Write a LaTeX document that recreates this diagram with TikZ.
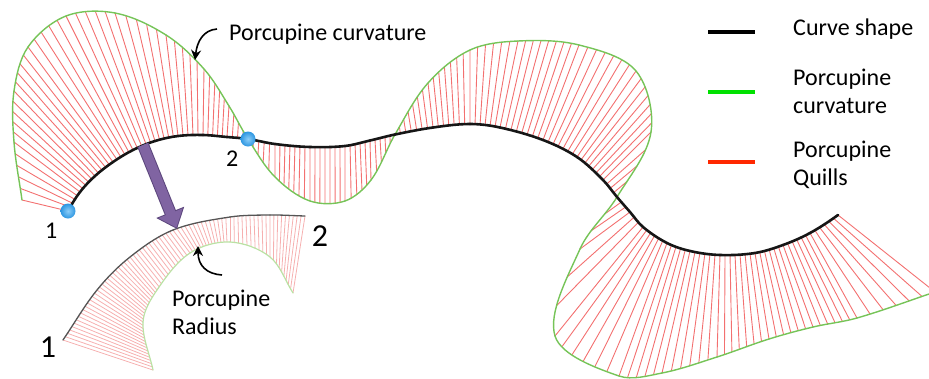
\documentclass[tikz,border=0pt]{standalone}
\usepackage{fontspec}
\setmainfont{Carlito}
\definecolor{pcblack}{RGB}{22,22,22}
\definecolor{pcgreen}{RGB}{118,196,88}
\definecolor{pcred}{RGB}{243,112,112}
\definecolor{pcgray}{RGB}{85,85,85}
\definecolor{pcpalegreen}{RGB}{186,226,164}
\definecolor{pcpalered}{RGB}{246,176,176}
\definecolor{pcblue}{RGB}{45,150,225}
\definecolor{pclightblue}{RGB}{140,205,248}
\definecolor{pcpurple}{RGB}{128,100,162}
\definecolor{pcdarkpurple}{RGB}{92,70,124}
\definecolor{leggreen}{RGB}{0,225,0}
\definecolor{legred}{RGB}{255,40,0}
\usepackage{tikz}
\usetikzlibrary{arrows.meta,positioning,calc,decorations.markings}

% smooth piece from #1#3 to #1#4 (#1#2 and #1#5 are the neighbours)
\newcommand{\splinepath}[5]{let \p1=(#1#2), \p2=(#1#3), \p3=(#1#4), \p4=(#1#5),
  \n1={veclen(\x2-\x1,\y2-\y1)}, \n2={veclen(\x3-\x2,\y3-\y2)},
  \n3={veclen(\x4-\x3,\y4-\y3)},
  \n4={\n2/(3*(\n1+\n2))}, \n5={\n2/(3*(\n2+\n3))} in
  (\p2) .. controls ({\x2+\n4*(\x3-\x1)},{\y2+\n4*(\y3-\y1)})
  and ({\x3-\n5*(\x4-\x2)},{\y3-\n5*(\y4-\y2)}) .. (\p3)}

\begin{document}
\begin{tikzpicture}[x=1pt, y=-1pt,
  curveline/.style={draw=pcblack, line width=2.6pt, line cap=round},
  envline/.style={draw=pcgreen, line width=1.4pt, line cap=round},
  quill/.style={draw=pcred, line width=0.9pt},
  radline/.style={draw=pcgray, line width=1.3pt, line cap=round},
  radenv/.style={draw=pcpalegreen, line width=1.2pt, line cap=round},
  radquill/.style={draw=pcpalered, line width=0.8pt},
  lbl/.style={font=\fontsize{24}{28}\selectfont, inner sep=0pt},
  biglbl/.style={font=\fontsize{32}{36}\selectfont, inner sep=0pt},
  ptball/.style={circle, minimum size=15pt, inner sep=0pt, shade, shading=radial,
    inner color=pclightblue, outer color=pcblue},
  curly/.style={draw=black, line width=1.6pt, -{Stealth[length=10pt,width=10pt]}},
  legline/.style={line width=4pt}]
\useasboundingbox (0,0) rectangle (929,378);

% curve shape (k) and porcupine curvature (e), matching pairs
\foreach \cx/\cy/\ex/\ey [count=\i] in {68/211/22/200, 80/192/14/142,
  95/176/14/91, 113/162/28/47, 133/150/66/16, 155/141/115/13,
  178/136/166/35, 203/135/204/69, 227/137/229/106, 248/139/248/139,
  275/144/275/177, 310/147/310/201, 345/146/345/201, 370/140.5/371/180,
  395/134.5/395/134.5, 433/127.5/428/83, 470/124/470/50, 500/127.5/518/41,
  543/140/579/45, 577/157/636/71, 603/180/651/132, 617/197/617/197,
  630/212/580/249, 643/227/555/336, 667/243/619/376, 690/251/662/373,
  720/255/717/357, 755/253/769/339, 783/245/813/327, 810/233/857/318,
  838/215/935/292}
  {\coordinate (k\i) at (\cx,\cy); \coordinate (e\i) at (\ex,\ey);}
\coordinate (k0) at (64,221); \coordinate (e0) at (22,200);
\coordinate (k32) at (846,207); \coordinate (e32) at (935,292);

% porcupine quills
\foreach \i/\n [evaluate=\i as \pv using int(\i-1), evaluate=\i as \nx using int(\i+1),
  evaluate=\i as \nn using int(\i+2), evaluate=\n as \st using 1/\n] in
  {1/5, 2/5, 3/5, 4/5, 5/5, 6/5, 7/5, 8/5, 9/4, 10/5, 11/7, 12/7, 13/5, 14/5, 15/7,
   16/7, 17/6, 18/8, 19/7, 20/7, 21/4, 22/3, 23/3, 24/6, 25/5, 26/6, 27/7, 28/6,
   29/6, 30/6} {
  \path[decorate, decoration={markings, mark=between positions 0 and 0.999 step \st
    with {\coordinate (qk-\i-\pgfkeysvalueof{/pgf/decoration/mark info/sequence number});}}]
    \splinepath{k}{\pv}{\i}{\nx}{\nn};
  \path[decorate, decoration={markings, mark=between positions 0 and 0.999 step \st
    with {\coordinate (qe-\i-\pgfkeysvalueof{/pgf/decoration/mark info/sequence number});}}]
    \splinepath{e}{\pv}{\i}{\nx}{\nn};
  \foreach \m in {1,...,\n} \draw[quill] (qk-\i-\m) -- (qe-\i-\m);
}
\draw[quill] (k31) -- (e31);

% porcupine curvature, then curve shape
\foreach \i [evaluate=\i as \pv using int(\i-1), evaluate=\i as \nx using int(\i+1),
  evaluate=\i as \nn using int(\i+2)] in {1,...,30}
  \draw[envline] \splinepath{e}{\pv}{\i}{\nx}{\nn};
\foreach \i [evaluate=\i as \pv using int(\i-1), evaluate=\i as \nx using int(\i+1),
  evaluate=\i as \nn using int(\i+2)] in {1,...,30}
  \draw[curveline] \splinepath{k}{\pv}{\i}{\nx}{\nn};

% Radius inset: arc (r) and inner curve (s)
\foreach \cx/\cy/\ex/\ey [count=\i] in {63/340/153/370, 97/290/143/322,
  130/257/157/290, 173/230/190/253, 230/217/230/242, 270/215/270/257, 305/216/293/293}
  {\coordinate (r\i) at (\cx,\cy); \coordinate (s\i) at (\ex,\ey);}
\coordinate (r0) at (63,340); \coordinate (s0) at (153,370);
\coordinate (r8) at (305,216); \coordinate (s8) at (293,293);

\foreach \i/\n [evaluate=\i as \pv using int(\i-1), evaluate=\i as \nx using int(\i+1),
  evaluate=\i as \nn using int(\i+2), evaluate=\n as \st using 1/\n] in
  {1/15, 2/12, 3/13, 4/14, 5/10, 6/9} {
  \path[decorate, decoration={markings, mark=between positions 0 and 0.999 step \st
    with {\coordinate (qr-\i-\pgfkeysvalueof{/pgf/decoration/mark info/sequence number});}}]
    \splinepath{r}{\pv}{\i}{\nx}{\nn};
  \path[decorate, decoration={markings, mark=between positions 0 and 0.999 step \st
    with {\coordinate (qs-\i-\pgfkeysvalueof{/pgf/decoration/mark info/sequence number});}}]
    \splinepath{s}{\pv}{\i}{\nx}{\nn};
  \foreach \m in {1,...,\n} \draw[radquill] (qr-\i-\m) -- (qs-\i-\m);
}
\draw[radquill] (r7) -- (s7);
\foreach \i [evaluate=\i as \pv using int(\i-1), evaluate=\i as \nx using int(\i+1),
  evaluate=\i as \nn using int(\i+2)] in {1,...,6} {
  \draw[radenv] \splinepath{s}{\pv}{\i}{\nx}{\nn};
  \draw[radline] \splinepath{r}{\pv}{\i}{\nx}{\nn};
}

% Arrow down to the inset
\coordinate (pa) at (143,145);
\coordinate (pb) at (177,229);
\draw[pcdarkpurple, line width=12pt, -{Triangle[length=18pt,width=29pt]}] (pa) -- (pb);
\draw[pcpurple, line width=10pt, shorten >=1.5pt, -{Triangle[length=15.5pt,width=25pt]}] (pa) -- (pb);

% End points
\node[ptball] (p1) at (k1) {};
\node[ptball] (p2) at (k10) {};
\node[lbl, below left=6pt and 5pt of p1] (n1) {1};
\node[lbl, below left=6pt and 4pt of p2] (n2) {2};
\node[biglbl] (r1lbl) at (48,347) {1};
\node[biglbl] (r7lbl) at (320,236) {2};

% Labels
\node[lbl, anchor=base west] (curvlabel) at (229,40) {Porcupine curvature};
\coordinate (curvtail) at (217,29);
\coordinate (curvtip) at (195,60);
\draw[curly] (curvtail) .. controls (203,30) and (197,42) .. (curvtip);

\node[lbl, anchor=base west, align=left] (radlabel) at (172,334) {Porcupine\\Radius};
\coordinate (radtail) at (222,275);
\coordinate (radtip) at (198,246);
\draw[curly] (radtail) .. controls (207,274) and (198,266) .. (radtip);

% Legend
\draw[legline, black] (708,32) -- (755,32);
\draw[legline, leggreen] (708,92) -- (755,92);
\draw[legline, legred] (708,162) -- (755,162);
\node[lbl, anchor=base west] (legcurve) at (793,35) {Curve shape};
\node[lbl, anchor=base west, align=left] (legcurv) at (793,113) {Porcupine\\curvature};
\node[lbl, anchor=base west, align=left] (legquill) at (793,185) {Porcupine\\Quills};

\end{tikzpicture}
\end{document}
